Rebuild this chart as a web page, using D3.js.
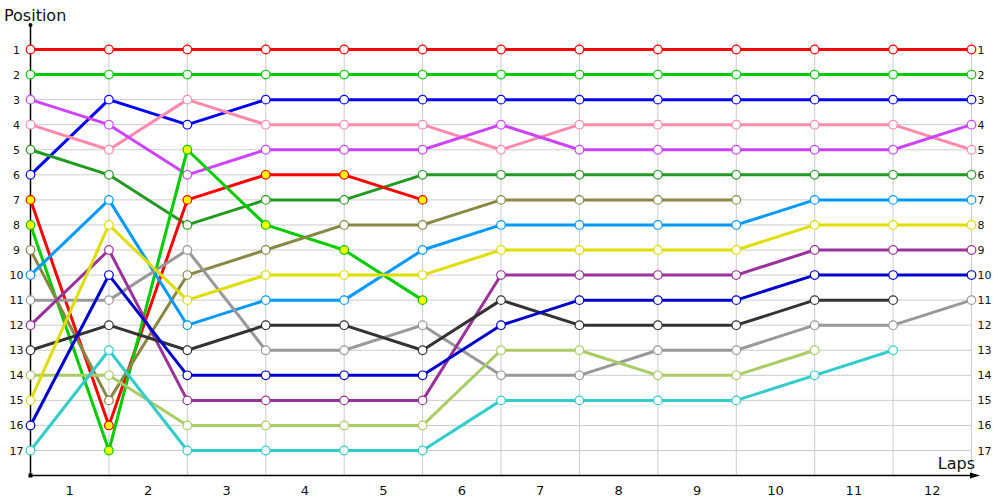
<!DOCTYPE html>
<html><head><meta charset="utf-8">
<script src="https://cdn.jsdelivr.net/npm/d3@7"></script>
<style>body{margin:0;background:#fff}svg{display:block}text{font-family:"DejaVu Sans",Verdana,sans-serif}</style>
</head><body><svg id="c" width="1000" height="500"></svg>
<script>
const lapLabels = ["1","2","3","4","5","6","7","8","9","10","11","12"];
const positionLabels = d3.range(1, 18);
const seriesNames = ["A","B","C","D","E","F","G","H","I","J","K","L","M","N","O","P","Q"];
const seriesColors = ["#ff0000","#00cc00","#0000ff","#ff8aaa","#cc44ff","#229922","#ff0000","#00cc00","#888844","#0099ff","#999999","#993399","#333333","#aacc66","#dddd00","#0000cc","#33cccc"];
const seriesFill = ["#fff","#fff","#fff","#fff","#fff","#fff","#ffff00","#ffff00","#fff","#fff","#fff","#fff","#fff","#fff","#fff","#fff","#fff"];
const posA = [1,1,1,1,1,1,1,1,1,1,1,1,1];
const posB = [2,2,2,2,2,2,2,2,2,2,2,2,2];
const posC = [6,3,4,3,3,3,3,3,3,3,3,3,3];
const posD = [4,5,3,4,4,4,5,4,4,4,4,4,5];
const posE = [3,4,6,5,5,5,4,5,5,5,5,5,4];
const posF = [5,6,8,7,7,6,6,6,6,6,6,6,6];
const posG = [7,16,7,6,6,7];
const posH = [8,17,5,8,9,11];
const posI = [9,15,10,9,8,8,7,7,7,7];
const posJ = [10,7,12,11,11,9,8,8,8,8,7,7,7];
const posK = [11,11,9,13,13,12,14,14,13,13,12,12,11];
const posL = [12,9,15,15,15,15,10,10,10,10,9,9,9];
const posM = [13,12,13,12,12,13,11,12,12,12,11,11];
const posN = [14,14,16,16,16,16,13,13,14,14,13];
const posO = [15,8,11,10,10,10,9,9,9,9,8,8,8];
const posP = [16,10,14,14,14,14,12,11,11,11,10,10,10];
const posQ = [17,13,17,17,17,17,15,15,15,15,14,13];
const allPos = [posA,posB,posC,posD,posE,posF,posG,posH,posI,posJ,posK,posL,posM,posN,posO,posP,posQ];

const svg = d3.select("#c");
const x = d3.scaleLinear().domain([0, 12]).range([30.5, 971.5]);
const y = d3.scaleLinear().domain([1, 17]).range([49.5, 450.5]);
const axisY = 475.5;

const g = svg.append("g");
// grid
g.selectAll(".hg").data(positionLabels).join("line")
  .attr("x1", x(0)).attr("x2", x(12)).attr("y1", d => y(d)).attr("y2", d => y(d))
  .attr("stroke", "#cccccc").attr("stroke-width", 1);
g.selectAll(".vg").data(d3.range(1, 13)).join("line")
  .attr("x1", d => x(d)).attr("x2", d => x(d)).attr("y1", 42).attr("y2", axisY)
  .attr("stroke", "#cccccc").attr("stroke-width", 1);

// axes
const yAxisL = d3.axisLeft(y).tickValues(positionLabels).tickSize(0).tickPadding(10).tickFormat(d3.format("d"));
const gl = svg.append("g").attr("transform", `translate(${x(0)},0)`).call(yAxisL);
gl.select(".domain").remove();
gl.selectAll("text").attr("font-size", 11).attr("fill", "#111").attr("text-anchor", "middle").attr("x", -14);

const yAxisR = d3.axisRight(y).tickValues(positionLabels).tickSize(0).tickPadding(6).tickFormat(d3.format("d"));
const gr = svg.append("g").attr("transform", `translate(${x(12)},0)`).call(yAxisR);
gr.select(".domain").remove();
gr.selectAll("text").attr("font-size", 11).attr("fill", "#111");

const xLab = d3.scaleBand().domain(lapLabels).range([x(0), x(12)]);
const xAxis = d3.axisBottom(xLab).tickSize(0).tickPadding(10);
const gx = svg.append("g").attr("transform", `translate(0,${axisY})`).call(xAxis);
gx.select(".domain").remove();
gx.selectAll("text").attr("font-size", 13).attr("fill", "#111");

svg.append("line").attr("x1", x(0)).attr("x2", x(0)).attr("y1", 25).attr("y2", axisY).attr("stroke", "#000").attr("stroke-width", 1.5);
svg.append("line").attr("x1", x(0)).attr("x2", 972).attr("y1", axisY).attr("y2", axisY).attr("stroke", "#000").attr("stroke-width", 1.5);
svg.append("path").attr("d", `M970,${axisY-3} L980,${axisY} L970,${axisY+3} Z`).attr("fill", "#000");
svg.append("circle").attr("cx", x(0)).attr("cy", 25).attr("r", 2).attr("fill", "#000");
svg.append("rect").attr("x", x(0)-2).attr("y", axisY-2).attr("width", 4).attr("height", 4).attr("fill", "#000");

svg.append("text").attr("x", 4).attr("y", 21).attr("font-size", 16).attr("fill", "#111").text("Position");
svg.append("text").attr("x", 975).attr("y", 469).attr("text-anchor", "end").attr("font-size", 16).attr("fill", "#111").text("Laps");

// series lines
const line = d3.line().x((d, i) => x(i)).y(d => y(d));
const sg = svg.append("g");
allPos.forEach((p, k) => {
  sg.append("path").attr("d", line(p)).attr("fill", "none")
    .attr("stroke", seriesColors[k]).attr("stroke-width", 3).attr("stroke-linejoin", "round");
});
allPos.forEach((p, k) => {
  sg.selectAll(null).data(p).join("circle")
    .attr("cx", (d, i) => x(i)).attr("cy", d => y(d)).attr("r", 4.3)
    .attr("fill", seriesFill[k]).attr("stroke", seriesColors[k]).attr("stroke-width", 1.2);
});
</script></body></html>
